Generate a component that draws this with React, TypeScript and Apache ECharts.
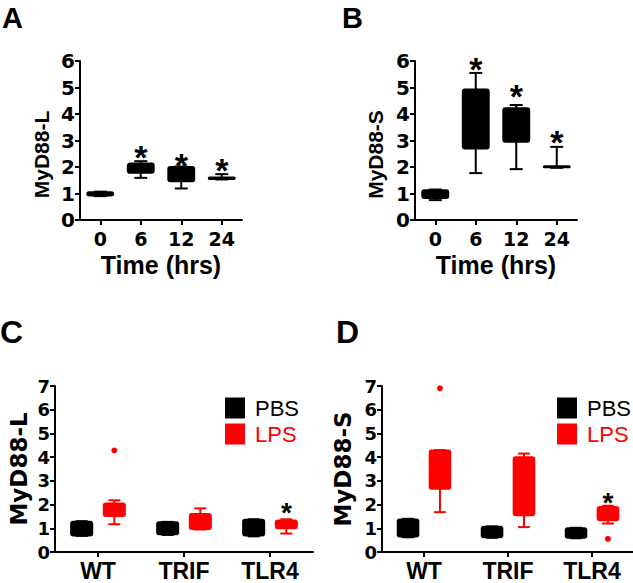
import React, { useEffect, useRef } from 'react';
import * as echarts from 'echarts';

const FONT = 'Liberation Sans';
const WIDE_FONT = 'DejaVu Sans';
const RED = '#ff0000';
const BLACK = '#000000';

// ---- Panel A / B : time course ----
const timeCats = ['0', '6', '12', '24'];
// [min, Q1, median, Q3, max]
const myd88LTime = [
  [0.9, 0.92, 0.98, 1.05, 1.07],
  [1.59, 1.78, 1.95, 2.13, 2.22],
  [1.19, 1.46, 1.7, 2.0, 2.02],
  [1.53, 1.55, 1.57, 1.6, 1.73],
];
const starsA = [null, 2.63, 2.35, 2.13];

const myd88STime = [
  [0.75, 0.83, 0.95, 1.12, 1.15],
  [1.77, 2.7, 3.8, 4.92, 5.55],
  [1.92, 2.95, 3.6, 4.22, 4.34],
  [1.97, 1.99, 2.0, 2.03, 2.76],
];
const starsB = [null, 5.96, 4.94, 3.2];

// ---- Panel C / D : genotypes ----
const genoCats = ['WT', 'TRIF', 'TLR4'];
const myd88L_PBS = [
  [0.68, 0.7, 1.0, 1.28, 1.3],
  [0.72, 0.75, 1.0, 1.25, 1.27],
  [0.66, 0.7, 1.0, 1.36, 1.38],
];
const myd88L_LPS = [
  [1.17, 1.52, 1.75, 2.05, 2.18],
  [0.95, 0.97, 1.3, 1.6, 1.84],
  [0.78, 1.0, 1.15, 1.33, 1.38],
];
const myd88L_LPS_outliers = [[0, 4.28]];
const starsC = [null, null, 1.89];

const myd88S_PBS = [
  [0.62, 0.65, 1.0, 1.37, 1.4],
  [0.6, 0.62, 0.85, 1.06, 1.08],
  [0.58, 0.6, 0.8, 1.0, 1.02],
];
const myd88S_LPS = [
  [1.68, 2.67, 4.2, 4.28, 4.3],
  [1.05, 1.55, 3.9, 4.0, 4.15],
  [1.2, 1.34, 1.7, 1.9, 1.95],
];
const myd88S_LPS_outliers = [[0, 6.9], [2, 0.55]];
const starsD = [null, null, 2.31];

const boxData = (rows: number[][]) => rows.map((r, i) => [i, ...r]);
const starData = (vals: (number | null)[]) =>
  vals.map((v, i) => (v == null ? null : [i, v])).filter((d) => d != null);

function boxRenderer(color: string, offsetFrac: number, boxFrac: number, capFrac: number) {
  return function (_params: any, api: any) {
    const ci = api.value(0);
    const band = api.size([1, 0])[0];
    const pMin = api.coord([ci, api.value(1)]);
    const pQ1 = api.coord([ci, api.value(2)]);
    const pMed = api.coord([ci, api.value(3)]);
    const pQ3 = api.coord([ci, api.value(4)]);
    const pMax = api.coord([ci, api.value(5)]);
    const cx = pMin[0] + band * offsetFrac;
    const hw = (band * boxFrac) / 2;
    const hc = (band * capFrac) / 2;
    const ls = { stroke: color, lineWidth: 2 };
    return {
      type: 'group',
      children: [
        { type: 'line', shape: { x1: cx, y1: pMax[1], x2: cx, y2: pQ3[1] }, style: ls },
        { type: 'line', shape: { x1: cx, y1: pQ1[1], x2: cx, y2: pMin[1] }, style: ls },
        { type: 'line', shape: { x1: cx - hc, y1: pMax[1], x2: cx + hc, y2: pMax[1] }, style: ls },
        { type: 'line', shape: { x1: cx - hc, y1: pMin[1], x2: cx + hc, y2: pMin[1] }, style: ls },
        {
          type: 'rect',
          shape: { x: cx - hw, y: pQ3[1], width: hw * 2, height: Math.max(pQ1[1] - pQ3[1], 0.5), r: 2 },
          style: { fill: color, stroke: color, lineWidth: 2, lineJoin: 'round' },
        },
        { type: 'line', shape: { x1: cx - hw, y1: pMed[1], x2: cx + hw, y2: pMed[1] }, style: ls },
      ],
    };
  };
}

function starRenderer(color: string, offsetFrac: number, fontSize: number) {
  return function (_params: any, api: any) {
    const ci = api.value(0);
    const band = api.size([1, 0])[0];
    const p = api.coord([ci, api.value(1)]);
    return {
      type: 'text',
      x: p[0] + band * offsetFrac,
      y: p[1] + fontSize * 0.2,
      style: {
        text: '*',
        fontSize,
        fontWeight: 'bold',
        fontFamily: FONT,
        fill: color,
        align: 'center',
        verticalAlign: 'middle',
      },
    };
  };
}

function dotRenderer(color: string, offsetFrac: number, radius: number) {
  return function (_params: any, api: any) {
    const ci = api.value(0);
    const band = api.size([1, 0])[0];
    const p = api.coord([ci, api.value(1)]);
    return {
      type: 'circle',
      shape: { cx: p[0] + band * offsetFrac, cy: p[1], r: radius },
      style: { fill: color },
    };
  };
}

const axisLineStyle = { show: true, lineStyle: { color: BLACK, width: 2 } };
const axisTickStyle = { show: true, length: 5, lineStyle: { color: BLACK, width: 2 } };

function catAxis(
  gridIndex: number,
  data: string[],
  labelSize: number,
  labelFont: string,
  margin: number,
  name?: string,
) {
  return {
    gridIndex,
    type: 'category',
    data,
    boundaryGap: true,
    axisLine: axisLineStyle,
    axisTick: { ...axisTickStyle, alignWithLabel: true },
    axisLabel: {
      fontSize: labelSize,
      fontWeight: 'bold',
      color: BLACK,
      fontFamily: labelFont,
      margin,
      interval: 0,
      lineHeight: labelSize,
    },
    splitLine: { show: false },
    name: name || '',
    nameLocation: 'middle',
    nameGap: 32,
    nameTextStyle: { fontSize: 25, fontWeight: 'bold', color: BLACK, fontFamily: FONT, lineHeight: 25 },
  };
}

function valAxis(
  gridIndex: number,
  max: number,
  labelSize: number,
  name: string,
  nameGap: number,
  nameStyle: any,
) {
  return {
    gridIndex,
    type: 'value',
    min: 0,
    max,
    interval: 1,
    axisLine: axisLineStyle,
    axisTick: axisTickStyle,
    splitLine: { show: false },
    axisLabel: {
      show: true,
      margin: 5,
      fontSize: labelSize,
      fontWeight: 'bold',
      color: BLACK,
      fontFamily: WIDE_FONT,
    },
    name,
    nameLocation: 'middle',
    nameGap,
    nameTextStyle: { color: BLACK, fontWeight: 'bold', ...nameStyle },
  };
}

function legendAt(left: number, top: number) {
  return {
    orient: 'vertical',
    left,
    top,
    itemWidth: 20,
    itemHeight: 21,
    itemGap: 4,
    icon: 'rect',
    selectedMode: false,
    data: [
      { name: 'PBS', textStyle: { color: BLACK } },
      { name: 'LPS', textStyle: { color: RED } },
    ],
    textStyle: { fontSize: 22, fontFamily: FONT, padding: [0, 0, 0, 5], lineHeight: 21 },
  };
}

const letterStyle = (size: number) => ({ fontSize: size, fontWeight: 'bold', color: BLACK, fontFamily: FONT });

export default function App() {
  const ref = useRef<HTMLDivElement>(null);

  useEffect(() => {
    document.body.style.margin = '0';
    if (!ref.current) return;
    const chart = echarts.init(ref.current, undefined, { renderer: 'svg' });

    const topBox = { boxFrac: 0.64, capFrac: 0.32 };
    const botBox = { boxFrac: 0.245, capFrac: 0.14, off: 0.19 };

    const option: any = {
      animation: false,
      backgroundColor: '#ffffff',
      title: [
        { text: 'A', left: 2, top: 3, padding: 0, textStyle: letterStyle(29) },
        { text: 'B', left: 342, top: 3, padding: 0, textStyle: letterStyle(29) },
        { text: 'C', left: 0, top: 316, padding: 0, textStyle: letterStyle(32) },
        { text: 'D', left: 336, top: 316, padding: 0, textStyle: letterStyle(32) },
      ],
      legend: [legendAt(220, 392), legendAt(552, 392)],
      grid: [
        { left: 80, top: 61, width: 162, height: 159, outerBoundsMode: 'none' },
        { left: 415, top: 61, width: 162, height: 159, outerBoundsMode: 'none' },
        { left: 55, top: 386, width: 258, height: 166, outerBoundsMode: 'none' },
        { left: 382, top: 386, width: 252, height: 166, outerBoundsMode: 'none' },
      ],
      xAxis: [
        catAxis(0, timeCats, 19, WIDE_FONT, 9, 'Time (hrs)'),
        catAxis(1, timeCats, 19, WIDE_FONT, 9, 'Time (hrs)'),
        catAxis(2, genoCats, 23, FONT, 7),
        catAxis(3, genoCats, 23, FONT, 7),
      ],
      yAxis: [
        valAxis(0, 6, 20, 'MyD88-L', 28, { fontSize: 21, fontFamily: FONT, padding: [0, 28, 0, 0] }),
        valAxis(1, 6, 20, 'MyD88-S', 29, { fontSize: 21, fontFamily: FONT, padding: [0, 28, 0, 0] }),
        valAxis(2, 7, 18, 'MyD88-L', 25, { fontSize: 23, fontFamily: WIDE_FONT }),
        valAxis(3, 7, 18, 'MyD88-S', 28, { fontSize: 23, fontFamily: WIDE_FONT }),
      ],
      series: [
        // Panel A
        {
          type: 'custom', xAxisIndex: 0, yAxisIndex: 0, itemStyle: { color: BLACK },
          renderItem: boxRenderer(BLACK, 0, topBox.boxFrac, topBox.capFrac),
          encode: { x: 0, y: [1, 2, 3, 4, 5] }, data: boxData(myd88LTime),
        },
        {
          type: 'custom', xAxisIndex: 0, yAxisIndex: 0,
          renderItem: starRenderer(BLACK, 0, 34), encode: { x: 0, y: 1 }, data: starData(starsA),
        },
        // Panel B
        {
          type: 'custom', xAxisIndex: 1, yAxisIndex: 1, itemStyle: { color: BLACK },
          renderItem: boxRenderer(BLACK, 0, topBox.boxFrac, topBox.capFrac),
          encode: { x: 0, y: [1, 2, 3, 4, 5] }, data: boxData(myd88STime),
        },
        {
          type: 'custom', xAxisIndex: 1, yAxisIndex: 1,
          renderItem: starRenderer(BLACK, 0, 34), encode: { x: 0, y: 1 }, data: starData(starsB),
        },
        // Panel C
        {
          name: 'PBS', type: 'custom', xAxisIndex: 2, yAxisIndex: 2, itemStyle: { color: BLACK },
          renderItem: boxRenderer(BLACK, -botBox.off, botBox.boxFrac, botBox.capFrac),
          encode: { x: 0, y: [1, 2, 3, 4, 5] }, data: boxData(myd88L_PBS),
        },
        {
          name: 'LPS', type: 'custom', xAxisIndex: 2, yAxisIndex: 2, itemStyle: { color: RED },
          renderItem: boxRenderer(RED, botBox.off, botBox.boxFrac, botBox.capFrac),
          encode: { x: 0, y: [1, 2, 3, 4, 5] }, data: boxData(myd88L_LPS),
        },
        {
          type: 'custom', xAxisIndex: 2, yAxisIndex: 2,
          renderItem: dotRenderer(RED, botBox.off, 3), encode: { x: 0, y: 1 }, data: myd88L_LPS_outliers,
        },
        {
          type: 'custom', xAxisIndex: 2, yAxisIndex: 2,
          renderItem: starRenderer(BLACK, botBox.off, 28), encode: { x: 0, y: 1 }, data: starData(starsC),
        },
        // Panel D
        {
          name: 'PBS', type: 'custom', xAxisIndex: 3, yAxisIndex: 3, itemStyle: { color: BLACK },
          renderItem: boxRenderer(BLACK, -botBox.off, botBox.boxFrac, botBox.capFrac),
          encode: { x: 0, y: [1, 2, 3, 4, 5] }, data: boxData(myd88S_PBS),
        },
        {
          name: 'LPS', type: 'custom', xAxisIndex: 3, yAxisIndex: 3, itemStyle: { color: RED },
          renderItem: boxRenderer(RED, botBox.off, botBox.boxFrac, botBox.capFrac),
          encode: { x: 0, y: [1, 2, 3, 4, 5] }, data: boxData(myd88S_LPS),
        },
        {
          type: 'custom', xAxisIndex: 3, yAxisIndex: 3,
          renderItem: dotRenderer(RED, botBox.off, 3), encode: { x: 0, y: 1 }, data: myd88S_LPS_outliers,
        },
        {
          type: 'custom', xAxisIndex: 3, yAxisIndex: 3,
          renderItem: starRenderer(BLACK, botBox.off, 28), encode: { x: 0, y: 1 }, data: starData(starsD),
        },
      ],
    };

    chart.setOption(option);
    return () => {
      chart.dispose();
    };
  }, []);

  return <div ref={ref} style={{ width: 633, height: 583 }} />;
}
